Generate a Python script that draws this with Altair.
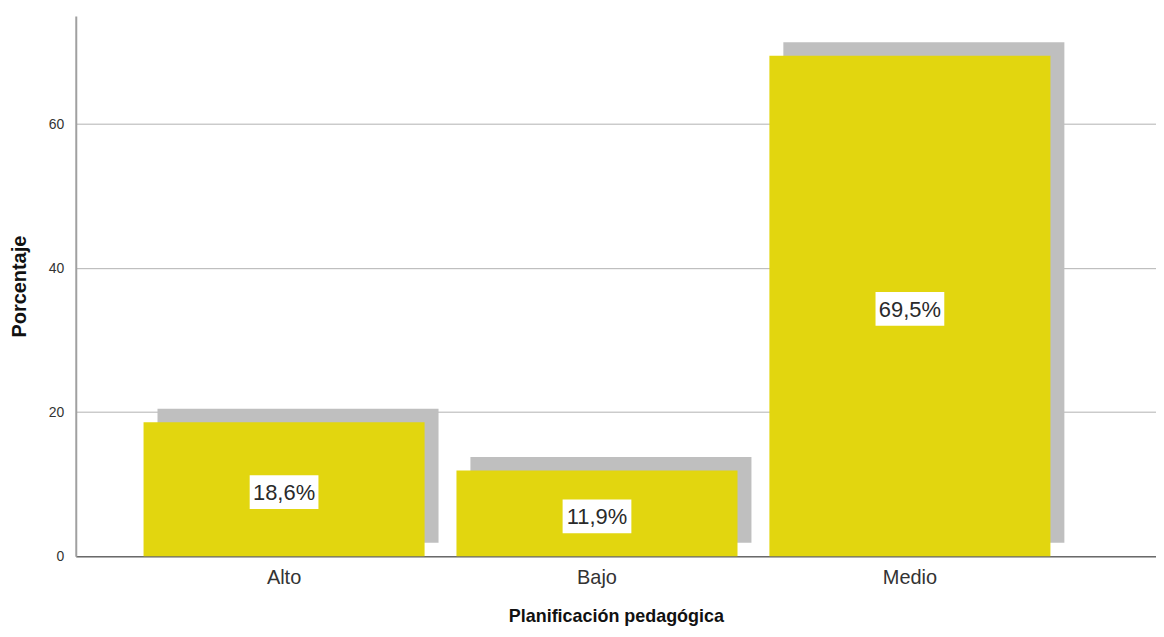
import altair as alt
import pandas as pd

categories = ["Alto", "Bajo", "Medio"]
values = [18.6, 11.9, 69.5]
labels = ["18,6%", "11,9%", "69,5%"]

df = pd.DataFrame({"cat": categories, "val": values, "lab": labels})

FONT = "Liberation Sans"

x = alt.X("cat:N", sort=categories,
          scale=alt.Scale(paddingInner=0.1019, paddingOuter=0.277, align=0.391),
          axis=alt.Axis(title="Planificación pedagógica", labelAngle=0, ticks=False,
                        labelPadding=11, labelFontSize=20, labelColor="#333333",
                        labelFont=FONT, titleFont=FONT, titleFontSize=18,
                        titleFontWeight="bold", titleColor="#111111",
                        titleY=61, titleBaseline="middle",
                        domainColor="#6a6a6a", domainWidth=1.5))

yscale = alt.Scale(domain=[0, 75], nice=False, zero=True)

yaxis = alt.Axis(title="Porcentaje", values=[0, 20, 40, 60], ticks=False,
                 labelPadding=12, labelFontSize=14, labelColor="#333333",
                 labelFont=FONT, titleFont=FONT, titleFontSize=20,
                 titleFontWeight="bold", titleColor="#111111",
                 titleX=-56, titleY=271, titleBaseline="middle",
                 titleAlign="center", titleAngle=-90,
                 grid=True, gridColor="#b2b2b2", gridWidth=1,
                 domainColor="#a0a0a0", domainWidth=2)

base = alt.Chart(df)

shadow = base.mark_bar(color="#bfbfbf", xOffset=14, x2Offset=14,
                       yOffset=-13.5, y2Offset=-15).encode(
    x=x,
    y=alt.Y("val:Q", scale=yscale, axis=yaxis),
)

bars = base.mark_bar(color="#e2d60f").encode(
    x=x,
    y=alt.Y("val:Q", scale=yscale, axis=yaxis),
)

boxes = base.transform_calculate(
    lo="datum.val/2 - 2.35", hi="datum.val/2 + 2.35"
).mark_bar(color="white", size=69, yOffset=3, y2Offset=3).encode(
    x=x,
    y=alt.Y("lo:Q", scale=yscale, axis=yaxis),
    y2="hi:Q",
)

texts = base.transform_calculate(
    mid="datum.val/2"
).mark_text(font=FONT, fontSize=22, color="#2a2a2a", baseline="middle",
            align="center", dy=4).encode(
    x=x,
    y=alt.Y("mid:Q", scale=yscale, axis=yaxis),
    text="lab:N",
)

chart = alt.layer(shadow, bars, boxes, texts).properties(
    width=1084, height=542,
    background="white",
    autosize=alt.AutoSizeParams(type="none"),
    padding={"left": 68, "top": 7, "right": 0, "bottom": 75},
).configure_view(stroke="transparent", strokeWidth=0)

chart.save("out.html", embed_options={"renderer": "svg", "actions": False})
